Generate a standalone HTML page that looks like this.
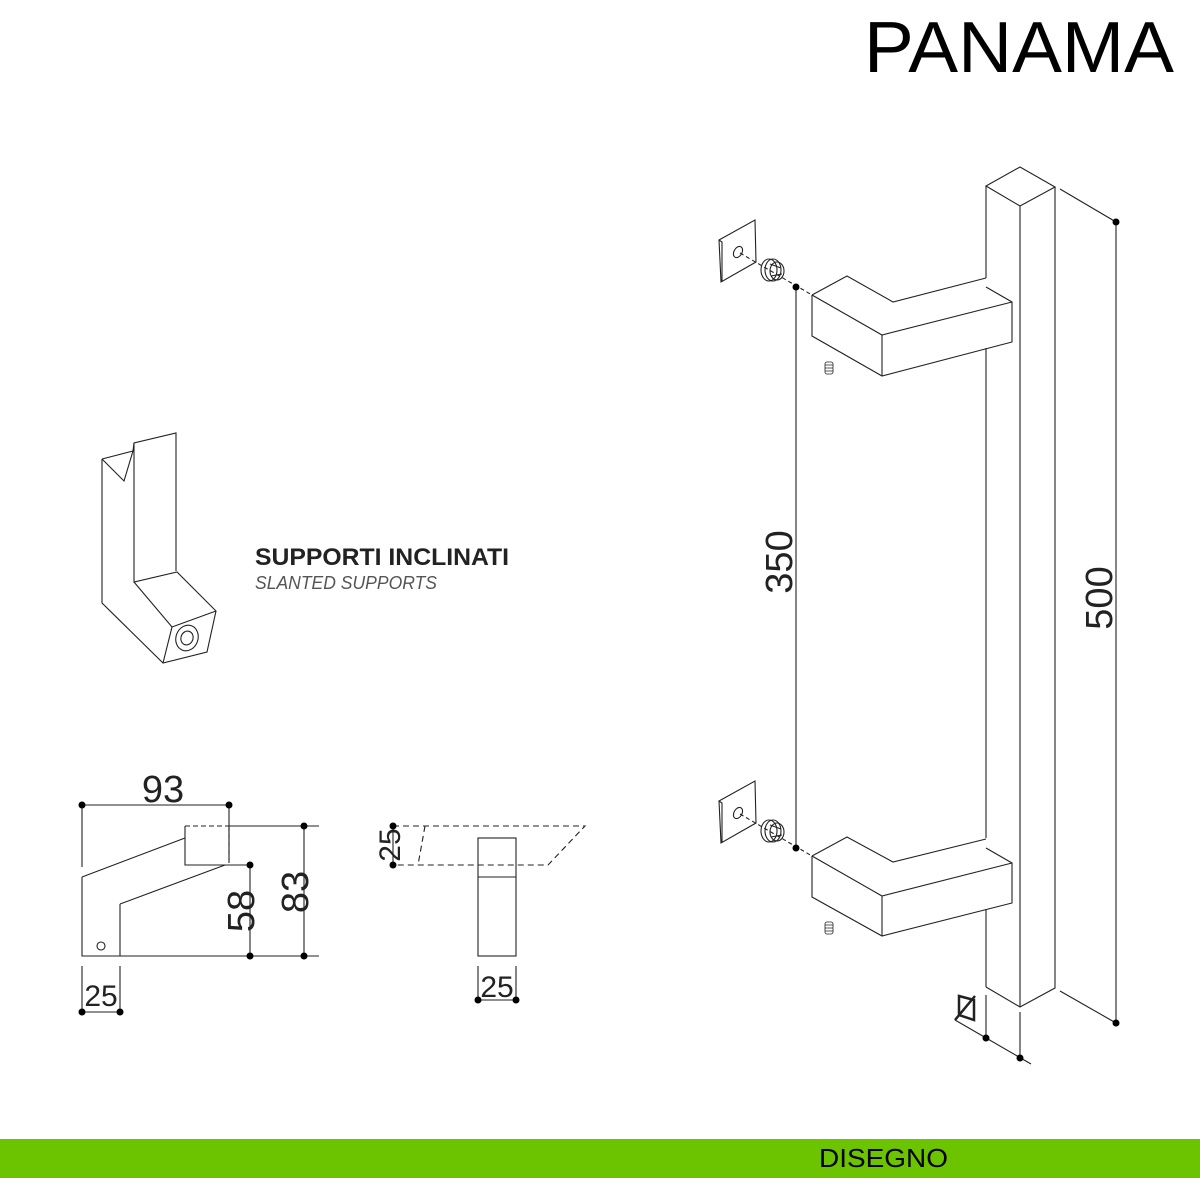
<!DOCTYPE html>
<html><head><meta charset="utf-8"><style>
html,body{margin:0;padding:0;background:#fff;}
svg{display:block;}
</style></head><body>
<svg width="1200" height="1200" viewBox="0 0 1200 1200" xmlns="http://www.w3.org/2000/svg" font-family="Liberation Sans, Arial, sans-serif">
<rect width="1200" height="1200" fill="#fff"/>
<text x="864" y="72" font-size="72" fill="#000" textLength="310" lengthAdjust="spacingAndGlyphs">PANAMA</text>

<g fill="none" stroke="#222" stroke-width="1.1">
<!-- bar -->
<path d="M986,186 L1020,167 L1055,187 L1020,206 Z"/>
<path d="M1020,206 L1020,1007"/>
<path d="M1055,187 L1055,988 L1020,1007 L986,987"/>
<path d="M986,186 L986,278 M986,348 L986,838 M986,909 L986,987"/>
<!-- top handle -->
<path d="M812,295 L847,276 L893,302 L986,278"/>
<path d="M812,295 L812,336 L882,376 L1012,342 L1012,302 L986,287"/>
<path d="M812,295 L882,335 L1012,302 M882,335 L882,376"/>
<!-- lower handle -->
<path d="M812,856 L847,837 L893,862 L986,839"/>
<path d="M812,856 L812,897 L882,936 L1012,903 L1012,863 L986,848"/>
<path d="M812,856 L882,896 L1012,863 M882,896 L882,936"/>
<!-- dims right -->
<path d="M796,287 L796,848"/>
<path d="M1060,189 L1116,222 L1116,1023 L1060,991"/>
<path d="M955,1020 L1031,1064 M986,995 L986,1038 M1020,1012 L1020,1058"/>
<!-- plates -->
<path d="M719,240 L755,220 L756,262 L721,282 Z M719,240 L722,242 L722,282"/>
<ellipse cx="738" cy="252" rx="4" ry="6" transform="rotate(30 738 252)"/>
<path d="M719,801 L755,781 L756,823 L721,843 Z M719,801 L722,803 L722,843"/>
<ellipse cx="738" cy="813" rx="4" ry="6" transform="rotate(30 738 813)"/>
<path d="M740,253 L812,295 M740,814 L812,856" stroke-dasharray="4,3"/>
<!-- screws -->
<g transform="translate(773,270)"><ellipse cx="-4" cy="0" rx="8" ry="11"/><ellipse cx="0" cy="0" rx="8" ry="11"/><ellipse cx="4" cy="1" rx="7" ry="9"/><path d="M-3,-6 L8,-2 M-2,6 L9,4"/></g>
<g transform="translate(773,831)"><ellipse cx="-4" cy="0" rx="8" ry="11"/><ellipse cx="0" cy="0" rx="8" ry="11"/><ellipse cx="4" cy="1" rx="7" ry="9"/><path d="M-3,-6 L8,-2 M-2,6 L9,4"/></g>
<g stroke-width="0.8"><rect x="825" y="362" width="8" height="12" rx="2"/><path d="M825,365 H833 M825,368 H833 M825,371 H833"/>
<rect x="825" y="922" width="8" height="12" rx="2"/><path d="M825,925 H833 M825,928 H833 M825,931 H833"/></g>
<!-- square symbol -->
<path d="M959,996 L974,1000 L974,1020 L959,1015 Z M955,1020 L975,996" stroke-width="2.5"/>

<!-- iso support -->
<path d="M102,459 L133,451 M102,459 L124,481 L133,451 L134,443 L176,433 L176,571"/>
<path d="M102,459 L102,603 L163,663 L207,652 L216,611 L177,572 L134,582 L134,443"/>
<path d="M134,582 L172,627 L216,611 M172,627 L163,663"/>
<ellipse cx="187" cy="638" rx="11" ry="13" transform="rotate(20 187 638)"/>
<ellipse cx="187" cy="638" rx="6" ry="7" transform="rotate(20 187 638)"/>

<!-- side view -->
<path d="M82,805 L229,805 M82,805 L82,867 M229,805 L229,860"/>
<path d="M185,826 L229,826 M229,826 L229,865" stroke-dasharray="5,3"/>
<path d="M229,826 L319,826 M185,826 L185,865 L250,865"/>
<path d="M82,877 L185,838 M82,877 L82,956 L319,956 M120,904 L225,865 M120,904 L120,956"/>
<circle cx="101" cy="946" r="4"/>
<path d="M250,865 L250,956 M304,826 L304,956"/>
<path d="M82,966 L82,1012 L120,1012 L120,966"/>
<!-- front view -->
<path d="M393,826 L393,865"/>
<path d="M393,826 L585,826 L548,865 L393,865 M425,826 L418,865" stroke-dasharray="6,4"/>
<rect x="478" y="838" width="38" height="118"/>
<path d="M478,877 L516,877 M478,966 L478,1000 L516,1000 L516,966"/>
</g>

<g fill="#000">
<circle cx="796" cy="287" r="3.5"/><circle cx="796" cy="848" r="3.5"/>
<circle cx="1116" cy="222" r="3.5"/><circle cx="1116" cy="1023" r="3.5"/>
<circle cx="986" cy="1038" r="3.5"/><circle cx="1020" cy="1058" r="3.5"/>
<circle cx="82" cy="805" r="3.5"/><circle cx="229" cy="805" r="3.5"/>
<circle cx="250" cy="865" r="3.5"/><circle cx="250" cy="956" r="3.5"/>
<circle cx="304" cy="826" r="3.5"/><circle cx="304" cy="956" r="3.5"/>
<circle cx="82" cy="1012" r="3.5"/><circle cx="120" cy="1012" r="3.5"/>
<circle cx="393" cy="826" r="3.5"/><circle cx="393" cy="865" r="3.5"/>
<circle cx="478" cy="1000" r="3.5"/><circle cx="516" cy="1000" r="3.5"/>
</g>

<g fill="#222" font-size="38">
<text x="163" y="802" text-anchor="middle">93</text>
<text transform="translate(254,911) rotate(-90)" text-anchor="middle">58</text>
<text transform="translate(308,892) rotate(-90)" text-anchor="middle">83</text>
<text x="101" y="1006" font-size="30" text-anchor="middle">25</text>
<text transform="translate(400,845) rotate(-90)" font-size="30" text-anchor="middle">25</text>
<text x="497" y="997" font-size="30" text-anchor="middle">25</text>
<text transform="translate(792,562) rotate(-90)" text-anchor="middle">350</text>
<text transform="translate(1112,598) rotate(-90)" text-anchor="middle">500</text>
</g>

<text x="255" y="565" font-size="24" font-weight="bold" fill="#222" textLength="254" lengthAdjust="spacingAndGlyphs">SUPPORTI INCLINATI</text>
<text x="255" y="589" font-size="18" font-style="italic" fill="#555" textLength="182" lengthAdjust="spacingAndGlyphs">SLANTED SUPPORTS</text>

<rect x="0" y="1139" width="1200" height="39" fill="#6cc300"/>
<text x="819" y="1167" font-size="26" fill="#000" textLength="129" lengthAdjust="spacingAndGlyphs">DISEGNO</text>
</svg>
</body></html>
